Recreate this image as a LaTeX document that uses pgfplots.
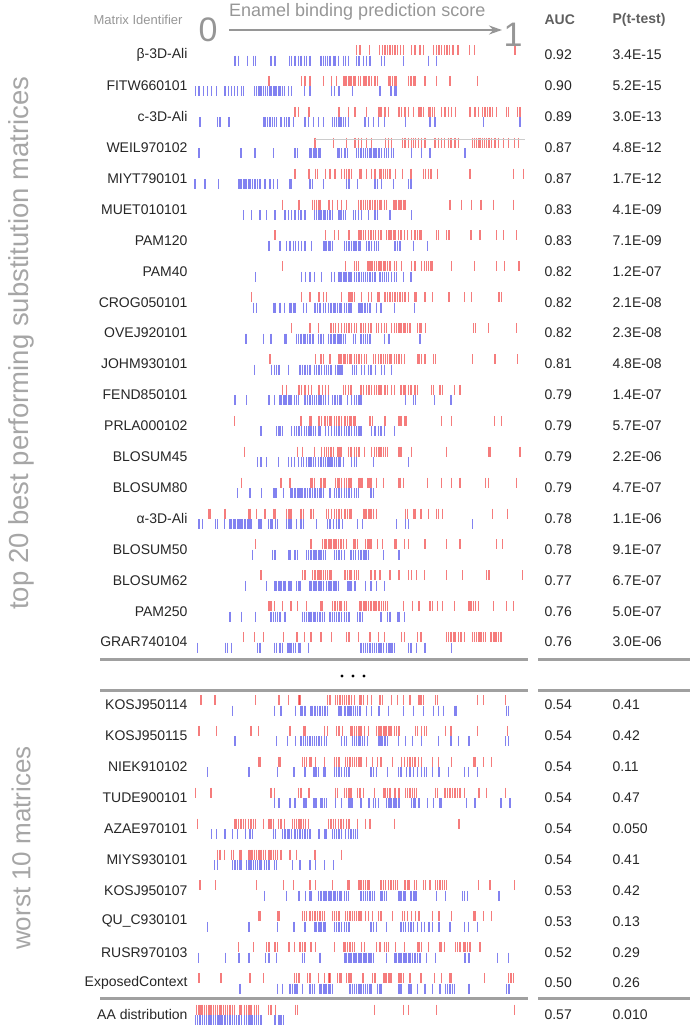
\documentclass[border=0pt]{standalone}
\usepackage{pgfplots}
\pgfplotsset{compat=1.18}
\usepackage{fontspec}
\setmainfont{Liberation Sans}
\usetikzlibrary{arrows.meta}

\definecolor{rugred}{RGB}{238,30,30}
\definecolor{rugblue}{RGB}{40,40,230}
\definecolor{lab}{RGB}{150,150,150}
\definecolor{hdr}{RGB}{95,95,95}
\definecolor{sep}{RGB}{160,160,160}

% positions are scores scaled to 0..990 ; #1 = row centre (px from top)
\newcommand\rug[3]{%
  \pgfmathsetmacro\yr{#1-5}\pgfmathsetmacro\yb{#1+5.5}%
  \gdef\pts{}\foreach \v in {#2}{\xdef\pts{\pts(\v,\yr)}}%
  \edef\tmp{\noexpand\addplot[rt] coordinates {\pts};}\tmp
  \gdef\pts{}\foreach \v in {#3}{\xdef\pts{\pts(\v,\yb)}}%
  \edef\tmp{\noexpand\addplot[bt] coordinates {\pts};}\tmp
}
\newcommand\lf{\fontsize{14}{16}\selectfont}
\newcommand\row[4]{%
  \node[anchor=east,font=\lf,text=black!85] at (191,#1) {#2};
  \node[anchor=west,font=\lf,text=black!85] at (541,#1) {#3};
  \node[anchor=west,font=\lf,text=black!85] at (609,#1) {#4};
}

\begin{document}
\begin{tikzpicture}
\path[use as bounding box] (0pt,0pt) rectangle (699pt,-1027pt);
\begin{axis}[at={(195pt,0pt)}, anchor=north west, scale only axis,
  width=330pt, height=1027pt, xmin=0, xmax=990, ymin=0, ymax=1027,
  y dir=reverse, hide axis, clip=false,
  rt/.style={only marks, mark=|, mark size=5pt,
    mark options={draw=rugred, line width=1.2pt, draw opacity=0.58}},
  bt/.style={only marks, mark=|, mark size=5pt,
    mark options={draw=rugblue, line width=1.2pt, draw opacity=0.58}}]
% top 20
\rug{55}{485,495,524,554,562,570,578,585,592,600,608,616,625,650,660,675,685,716,724,732,740,748,756,764,774,789,823,838,960}
{120,130,158,175,182,228,240,283,290,300,310,318,328,335,345,378,385,392,398,405,415,420,430,445,452,460,485,492,505,515,525,560,568,625,700,725}
\rug{85.9}{222,320,330,345,385,410,425,445,450,455,462,468,475,480,490,497,505,510,515,522,530,540,548,580,585,592,600,605,640,648,655,660,690,725,765,848}
{2,12,25,38,50,65,90,100,110,118,128,140,145,178,185,190,195,200,205,212,218,225,230,235,240,245,250,255,262,268,280,290,328,345,410,418,432,472,555,588,600,605}
\rug{116.8}{300,310,342,432,460,480,515,550,555,560,570,580,612,620,630,640,655,670,675,680,685,700,705,712,718,740,750,760,770,782,825,840,850,862,870,878,885,892,905,935,940,968,975}
{15,68,75,102,205,210,218,225,232,238,245,258,268,275,282,295,330,340,355,370,385,412,418,425,432,438,445,452,460,510,520,535,550,568,632,705,720,865,975}
\rug{147.7}{360,415,455,480,490,500,515,530,572,580,590,622,630,640,650,655,662,670,680,688,692,720,730,740,748,760,768,780,790,832,838,845,850,855,862,868,875,882,890,900,910,925,940,958,970}
{12,138,180,235,300,308,345,350,355,360,365,370,375,428,432,440,450,458,485,490,498,505,512,518,525,530,535,540,545,552,560,568,575,580,590,595,650,680,705,810}
\rug{178.6}{300,342,362,368,392,405,420,440,448,455,462,470,495,500,515,530,540,555,560,565,572,578,585,602,622,648,685,692,700,708,728,825,955,985}
{0,30,70,130,135,140,145,150,155,160,165,172,180,188,195,210,225,235,248,285,290,345,352,385,455,462,488,540,548,560,595,640,648}
\rug{209.5}{262,312,352,358,365,370,375,402,412,428,440,455,490,498,505,512,518,525,532,540,548,555,560,568,575,595,600,605,610,615,620,625,630,765,800,830,858,895,955}
{145,170,195,215,240,268,272,280,290,300,310,318,330,358,365,372,378,385,390,398,405,412,432,438,445,452,475,482,490,500,520,540,548,585,650}
\rug{240.4}{240,392,418,430,462,492,498,505,512,520,528,535,542,550,558,575,580,585,590,595,600,610,618,628,638,650,660,668,675,680,725,730,755,762,828,855,905,925,965}
{222,255,275,285,295,302,310,320,330,350,385,390,395,400,405,412,448,455,462,470,475,480,485,490,495,515,522,530,538,545,550,600,608,615,655,698}
\rug{271.3}{262,452,478,485,490,518,522,528,532,538,545,550,555,560,565,570,578,585,598,605,620,650,660,680,688,695,700,708,712,770,838,905,928,972}
{182,320,332,345,358,380,410,418,432,438,445,450,455,460,465,470,478,485,492,500,505,512,518,525,532,540,555,562,568,575,580,590,598,605,625,648}
\rug{302.2}{170,320,345,372,385,395,440,462,468,472,478,500,520,530,548,552,570,578,585,592,600,608,615,622,630,640,660,665,690,712,762,808,830,912,920}
{175,185,235,240,255,268,285,290,295,300,325,335,360,368,375,385,392,400,408,415,420,428,435,440,448,455,462,468,492,498,502,510,518,525,545,558,598,658}
\rug{333.1}{290,345,370,408,415,422,430,440,448,455,462,470,478,485,498,505,512,520,528,545,550,560,568,575,590,598,605,612,618,625,630,638,645,668,675,680,692,835,842,880,965}
{152,155,205,228,270,275,305,310,318,325,330,338,345,352,355,370,378,385,400,408,415,420,428,432,438,445,452,475,482,498,505,512,518,525,568,582,675}
\rug{364}{225,362,378,385,405,432,438,445,450,458,465,470,478,485,492,500,508,515,535,542,550,558,565,572,578,585,590,598,605,612,620,628,668,672,680,690,715,722,832,900,968}
{178,230,238,245,252,280,315,322,330,338,345,358,365,372,380,388,395,400,408,422,428,432,438,442,472,478,485,500,508,520,528,542,560,568,590}
\rug{394.9}{262,275,312,320,330,340,350,372,382,392,400,445,452,460,468,498,505,515,522,530,538,545,552,558,570,578,590,598,618,625,630,640,648,660,668,710,715,735,742,778,795}
{120,155,222,238,255,260,265,270,275,280,285,290,298,305,310,330,338,345,352,358,365,372,378,385,392,400,412,420,428,435,440,458,470,478,485,492,498,632,655,662,718,768}
\rug{425.8}{118,318,345,350,372,380,390,398,405,410,418,425,432,440,450,458,465,470,475,480,525,532,570,612,618,630,635,740,770,898,920}
{198,245,250,255,262,290,298,305,312,320,328,335,342,348,355,362,370,375,392,400,410,418,425,432,440,448,455,462,470,478,485,492,498,530,540,550,558,568,598}
\rug{456.7}{148,308,322,358,380,388,395,400,408,415,428,432,438,460,468,478,485,492,508,530,538,545,552,558,565,572,578,612,618,650,755,880,885,975}
{188,198,215,250,280,290,298,310,320,325,335,342,348,355,362,370,378,385,392,398,402,408,412,418,425,430,435,445,470,478,485,535,640}
\rug{487.6}{140,258,285,348,352,358,378,385,390,422,428,432,440,448,455,462,468,492,498,502,518,522,528,545,565,610,615,625,698,740,770,795,872,880,965}
{128,165,200,235,240,245,265,288,292,298,302,308,312,318,322,330,338,345,352,358,362,368,375,380,385,405,418,425,432,440,448,455,462,470,478,485,490,528,535}
\rug{518.5}{40,45,90,160,165,185,210,235,240,275,282,288,318,325,348,355,395,400,410,418,425,432,440,450,458,465,470,505,510,515,520,525,530,535,545,632,638,655,660,678,700,725,730,742,892,938}
{12,22,62,68,88,105,110,115,118,122,128,132,138,142,148,152,158,162,168,192,198,220,228,232,242,248,275,280,285,290,305,318,325,365,398,405,415,425,432,442,488,502,605,632,640,832}
\rug{549.4}{182,348,382,390,395,400,405,410,415,420,425,430,438,445,455,475,480,488,512,518,522,528,548,562,600,605,628,640,690,755,795,905,922}
{172,232,238,242,280,285,298,302,308,335,340,348,355,360,365,372,378,385,392,418,425,432,440,448,468,475,482,490,498,505,510,515,520,565,612}
\rug{580.3}{198,322,330,352,358,362,368,372,378,385,392,398,405,410,448,452,458,465,470,478,485,490,528,540,555,585,612,640,650,665,688,755,802,875,882,982}
{152,215,240,245,250,255,260,265,270,282,288,305,310,315,345,350,355,360,365,372,378,385,395,400,405,410,415,420,425,430,458,462,468,480,512,528,545,568}
\rug{611.2}{222,228,238,262,288,308,335,378,382,412,418,422,428,435,440,448,455,495,500,505,510,515,520,528,535,540,545,552,560,565,572,578,625,652,672,705,712,728,742,778,822,828,835,842,850,895,935,955}
{105,140,182,228,235,242,248,255,270,322,328,335,340,345,350,355,360,368,375,382,388,405,412,418,425,432,440,448,455,462,488,495,502,558,578,585,608,612,628}
\rug{642.1}{145,178,205,265,305,308,328,348,378,410,455,462,490,525,550,568,620,628,668,678,755,760,768,775,780,790,798,808,832,838,845,852,858,865,872,888,895,900,905,910,918}
{8,92,98,110,188,195,238,245,255,262,278,282,288,295,302,310,315,340,498,505,512,518,525,532,538,545,552,558,565,575,582,588,592,598,640,648,665,690,770}
% worst 10
\rug{705}{18,60,182,252,280,312,315,398,405,422,428,435,442,448,455,462,470,478,495,500,505,518,530,555,562,590,608,625,645,672,678,685,722,728,848,865,932}
{112,238,258,302,318,322,328,332,348,352,358,362,368,375,382,388,392,398,432,438,448,452,458,462,468,475,482,488,495,515,530,552,580,625,655,685,715,730,745,780,785,935,940}
\rug{735.9}{12,65,168,190,285,325,330,388,398,425,432,442,468,472,478,485,492,498,508,520,545,550,555,560,565,570,575,580,585,590,598,605,612,662,668,680,688,695,752,768,848,938}
{120,245,278,302,318,325,332,338,345,352,358,365,372,380,388,395,440,448,455,472,478,485,490,495,502,508,518,552,558,562,570,578,610,632,652,680,730,768,790,822,932,940}
\rug{766.8}{190,195,250,255,322,328,335,345,350,362,388,418,425,432,452,458,465,472,478,485,492,498,515,532,548,558,592,620,628,638,645,652,660,670,680,712,730,770,835,840,865,890}
{38,162,248,295,298,330,355,360,365,370,385,390,418,425,432,440,448,455,462,528,535,545,578,610,618,635,645,655,668,680,688,695,712,732,760,808,820,848}
\rug{797.7}{2,48,228,238,310,318,342,422,428,448,455,462,468,488,495,505,538,565,570,578,585,598,602,612,632,638,645,652,658,665,722,728,748,752,758,765,772,780,788,795,808,852,875,932}
{238,252,285,300,325,330,335,355,360,365,378,382,388,395,422,440,462,468,472,498,522,535,542,550,575,580,585,590,595,600,605,612,650,655,660,672,698,715,735,740,815,840,918,945}
\rug{828.6}{8,120,125,130,138,145,152,160,168,175,182,205,222,228,235,250,258,268,292,298,305,312,318,325,332,340,400,408,415,422,430,438,445,455,462,488,512,525,598,792}
{50,65,90,112,128,152,165,172,235,242,262,268,272,278,282,290,298,302,308,315,322,330,338,345,372,390,395,412,418,425,432,440,452,460,468,475,482,488}
\rug{859.5}{68,75,88,110,115,135,140,162,168,172,178,185,192,198,205,212,222,228,235,242,248,258,285,305,358,362,440}
{58,68,112,118,122,128,135,140,155,160,165,170,175,182,188,195,200,208,215,222,238,245,292,315,345,362,388,415}
\rug{890.4}{15,62,185,265,295,345,362,412,458,462,492,498,505,512,518,522,558,565,572,580,588,595,602,608,628,632,638,642,658,665,685,692,705,722,728,735,742,748,755,850,885,958}
{208,275,312,332,345,350,370,378,385,390,395,400,405,410,415,420,428,435,440,448,455,460,498,505,512,518,525,532,538,558,562,568,575,610,615,620,625,630,648,655,660,665,725,752,802,808,818,912}
\rug{921.3}{190,195,248,252,322,328,335,345,352,360,368,375,382,388,412,418,425,432,452,458,465,472,478,485,492,498,512,520,532,550,558,592,622,628,638,650,662,672,712,732,770,835,840,865,890}
{38,162,248,295,298,330,358,362,365,370,375,380,385,390,418,425,432,440,448,455,462,528,535,545,575,618,625,632,640,648,655,668,680,688,702,712,732,765,808,820,848}
\rug{952.2}{130,175,215,222,240,248,282,298,315,322,328,332,348,362,418,445,450,458,465,472,478,500,508,545,555,568,575,580,602,628,668,672,680,700,735,740,748,782,788,795,805,810,818,825,855}
{10,92,132,162,212,222,245,322,328,375,450,455,460,465,470,475,480,485,490,495,500,505,510,515,520,525,530,535,575,600,605,612,618,625,630,635,640,645,652,660,668,675,695,722,810,822,908,940}
\rug{983.1}{12,78,165,205,298,305,312,338,345,370,388,402,405,428,435,440,455,462,468,502,505,532,540,565,570,575,580,585,590,612,618,625,645,678,718,740,765,770,868,940,948,955}
{135,248,262,285,292,298,302,305,308,322,345,352,358,375,380,385,390,395,400,405,412,465,472,478,485,492,498,505,512,518,525,530,548,555,560,612,618,642,648,668,690,712,735,752,758,765,772,778,822,935,942}
% AA distribution
\rug{1014.5}{5,12,18,22,28,35,42,48,55,62,68,75,80,85,92,98,105,112,118,135,140,148,155,162,168,178,185,190,220,228,242,302,308,538,625,640,725,958}
{2,8,15,22,28,35,42,48,55,62,68,72,78,82,88,92,98,105,112,118,125,132,140,148,155,162,168,172,178,185,190,198,238,242,252,258,265}
\end{axis}

\begin{scope}[x=1pt,y=-1pt]
% header
\node[anchor=east,text=lab,font=\fontsize{13}{15}\selectfont] at (186,20) {Matrix Identifier};
\node[text=lab,font=\fontsize{34}{36}\selectfont] at (208,30) {0};
\node[anchor=west,text=lab,font=\fontsize{18}{20}\selectfont,inner sep=0pt] at (229,12) {Enamel binding prediction score};
\draw[lab,line width=2pt,-{Stealth[length=13pt,width=9pt]}] (229,30) -- (502,30);
\node[text=lab,font=\fontsize{34}{36}\selectfont] at (513,35) {1};
\node[anchor=west,text=hdr,font=\bfseries\fontsize{14}{16}\selectfont] at (541,20) {AUC};
\node[anchor=west,text=hdr,font=\bfseries\fontsize{14}{16}\selectfont] at (609,20) {P(t-test)};
% side titles
\node[rotate=90,text=lab!85,font=\fontsize{27.5}{29}\selectfont] at (21,343) {top 20 best performing substitution matrices};
\node[rotate=90,text=lab!85,font=\fontsize{26}{28}\selectfont] at (21,848) {worst 10 matrices};
% separators
\draw[sep,line width=3pt] (100,659) -- (528,659) (538,659) -- (690,659);
\draw[sep,line width=3pt] (100,690) -- (528,690) (538,690) -- (690,690);
\draw[sep,line width=3pt] (100,998) -- (528,998) (538,998) -- (690,998);
\draw[black!20,line width=0.6pt] (315,139) -- (525,139);
\fill[black] (342,676) circle (1.6) (353,676) circle (1.6) (364,676) circle (1.6);
% rows
\row{55}{β-3D-Ali}{0.92}{3.4E-15}
\row{85.9}{FITW660101}{0.90}{5.2E-15}
\row{116.8}{c-3D-Ali}{0.89}{3.0E-13}
\row{147.7}{WEIL970102}{0.87}{4.8E-12}
\row{178.6}{MIYT790101}{0.87}{1.7E-12}
\row{209.5}{MUET010101}{0.83}{4.1E-09}
\row{240.4}{PAM120}{0.83}{7.1E-09}
\row{271.3}{PAM40}{0.82}{1.2E-07}
\row{302.2}{CROG050101}{0.82}{2.1E-08}
\row{333.1}{OVEJ920101}{0.82}{2.3E-08}
\row{364}{JOHM930101}{0.81}{4.8E-08}
\row{394.9}{FEND850101}{0.79}{1.4E-07}
\row{425.8}{PRLA000102}{0.79}{5.7E-07}
\row{456.7}{BLOSUM45}{0.79}{2.2E-06}
\row{487.6}{BLOSUM80}{0.79}{4.7E-07}
\row{518.5}{α-3D-Ali}{0.78}{1.1E-06}
\row{549.4}{BLOSUM50}{0.78}{9.1E-07}
\row{580.3}{BLOSUM62}{0.77}{6.7E-07}
\row{611.2}{PAM250}{0.76}{5.0E-07}
\row{642.1}{GRAR740104}{0.76}{3.0E-06}
\row{705}{KOSJ950114}{0.54}{0.41}
\row{735.9}{KOSJ950115}{0.54}{0.42}
\row{766.8}{NIEK910102}{0.54}{0.11}
\row{797.7}{TUDE900101}{0.54}{0.47}
\row{828.6}{AZAE970101}{0.54}{0.050}
\row{859.5}{MIYS930101}{0.54}{0.41}
\row{890.4}{KOSJ950107}{0.53}{0.42}
\row{921.3}{QU\_C930101}{0.53}{0.13}
\row{952.2}{RUSR970103}{0.52}{0.29}
\row{983.1}{ExposedContext}{0.50}{0.26}
\row{1014.5}{AA distribution}{0.57}{0.010}
\end{scope}
\end{tikzpicture}
\end{document}
